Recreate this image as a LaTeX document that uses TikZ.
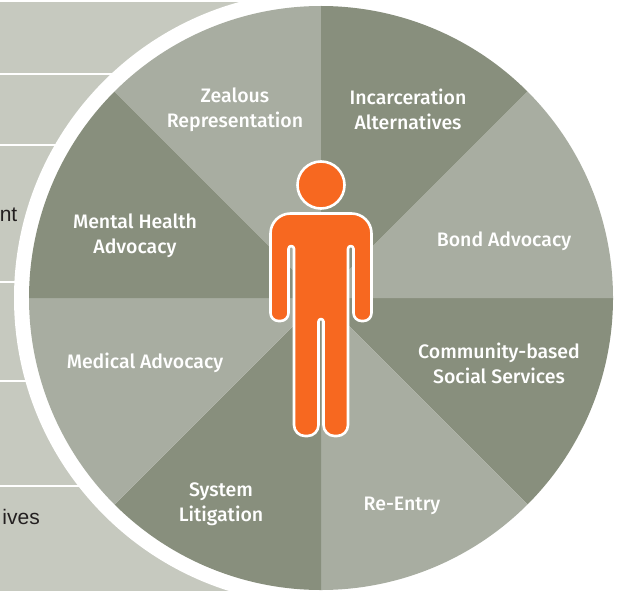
\documentclass[tikz,border=0pt]{standalone}
\usepackage{fontspec}
\setmainfont{Liberation Sans}
\newfontfamily\labelfont{Fira Sans Medium}
\usetikzlibrary{positioning}
\definecolor{darkwedge}{HTML}{888F7D}
\definecolor{lightwedge}{HTML}{A8ADA1}
\definecolor{backpanel}{HTML}{C6C9BF}
\definecolor{figure}{HTML}{F76820}
\definecolor{sidetext}{HTML}{231F20}
\tikzset{
  wedgelabel/.style={text=white, align=center, font=\fontsize{19.5}{25}\selectfont\labelfont},
  sidelabel/.style={text=sidetext, font=\fontsize{21}{25}\selectfont, inner sep=0pt},
  figureline/.style={fill=figure, draw=white, line width=2.6pt, line join=round}
}

\begin{document}
\begin{tikzpicture}[x=1pt, y=-1pt]
  \useasboundingbox (0, 0) rectangle (617, 591);
  \fill[backpanel] (0, 2) rectangle (321, 591);
  \foreach \j in {74, 145, 282, 381, 486} {
    \draw[white, line width=2pt] (0, \j) -- (300, \j);
  }
  \fill[white] (321, 298) circle (307);
  % angles run clockwise here since y points down
  \foreach \a/\c in {0/darkwedge, 45/lightwedge, 90/darkwedge, 135/lightwedge,
                     180/darkwedge, 225/lightwedge, 270/darkwedge, 315/lightwedge} {
    \fill[\c] (321, 298) -- +(\a:292) arc (\a:\a+45:292) -- cycle;
  }
  \node[sidelabel, anchor=base east] (treatment) at (17.5, 221) {nt};
  \node[sidelabel, anchor=base east] (alternatives) at (40, 524) {ives};
  \node[wedgelabel] (zealous) at (235, 109.5) {Zealous\\Representation};
  \node[wedgelabel] (incarceration) at (408, 109.5) {Incarceration\\Alternatives};
  \node[wedgelabel] (bond) at (504, 241) {Bond Advocacy};
  \node[wedgelabel] (community) at (499, 363.5) {Community-based\\Social Services};
  \node[wedgelabel] (reentry) at (402, 506) {Re-Entry};
  \node[wedgelabel] (system) at (221, 504.5) {System\\Litigation};
  \node[wedgelabel] (medical) at (145, 363) {Medical Advocacy};
  \node[wedgelabel] (mental) at (135, 235.5) {Mental Health\\Advocacy};
  % the figure
  \filldraw[figureline] (321, 185) circle (23.5);
  \filldraw[figureline]
    (290.5, 213.5) arc (270:180:20) -- (270.5, 313) arc (180:90:8)
    -- (280.5, 321) arc (90:0:8) -- (288.5, 248.75) arc (180:360:2.75)
    -- (294, 425) arc (180:90:11) -- (307.5, 436) arc (90:0:11)
    -- (318.5, 321.5) arc (180:360:2.5)
    -- (323.5, 425) arc (180:90:11) -- (337, 436) arc (90:0:11)
    -- (348, 248.75) arc (180:360:2.75)
    -- (353.5, 313) arc (180:90:8) -- (363.5, 321) arc (90:0:8)
    -- (371.5, 233.5) arc (0:-90:20) -- cycle;
\end{tikzpicture}
\end{document}
